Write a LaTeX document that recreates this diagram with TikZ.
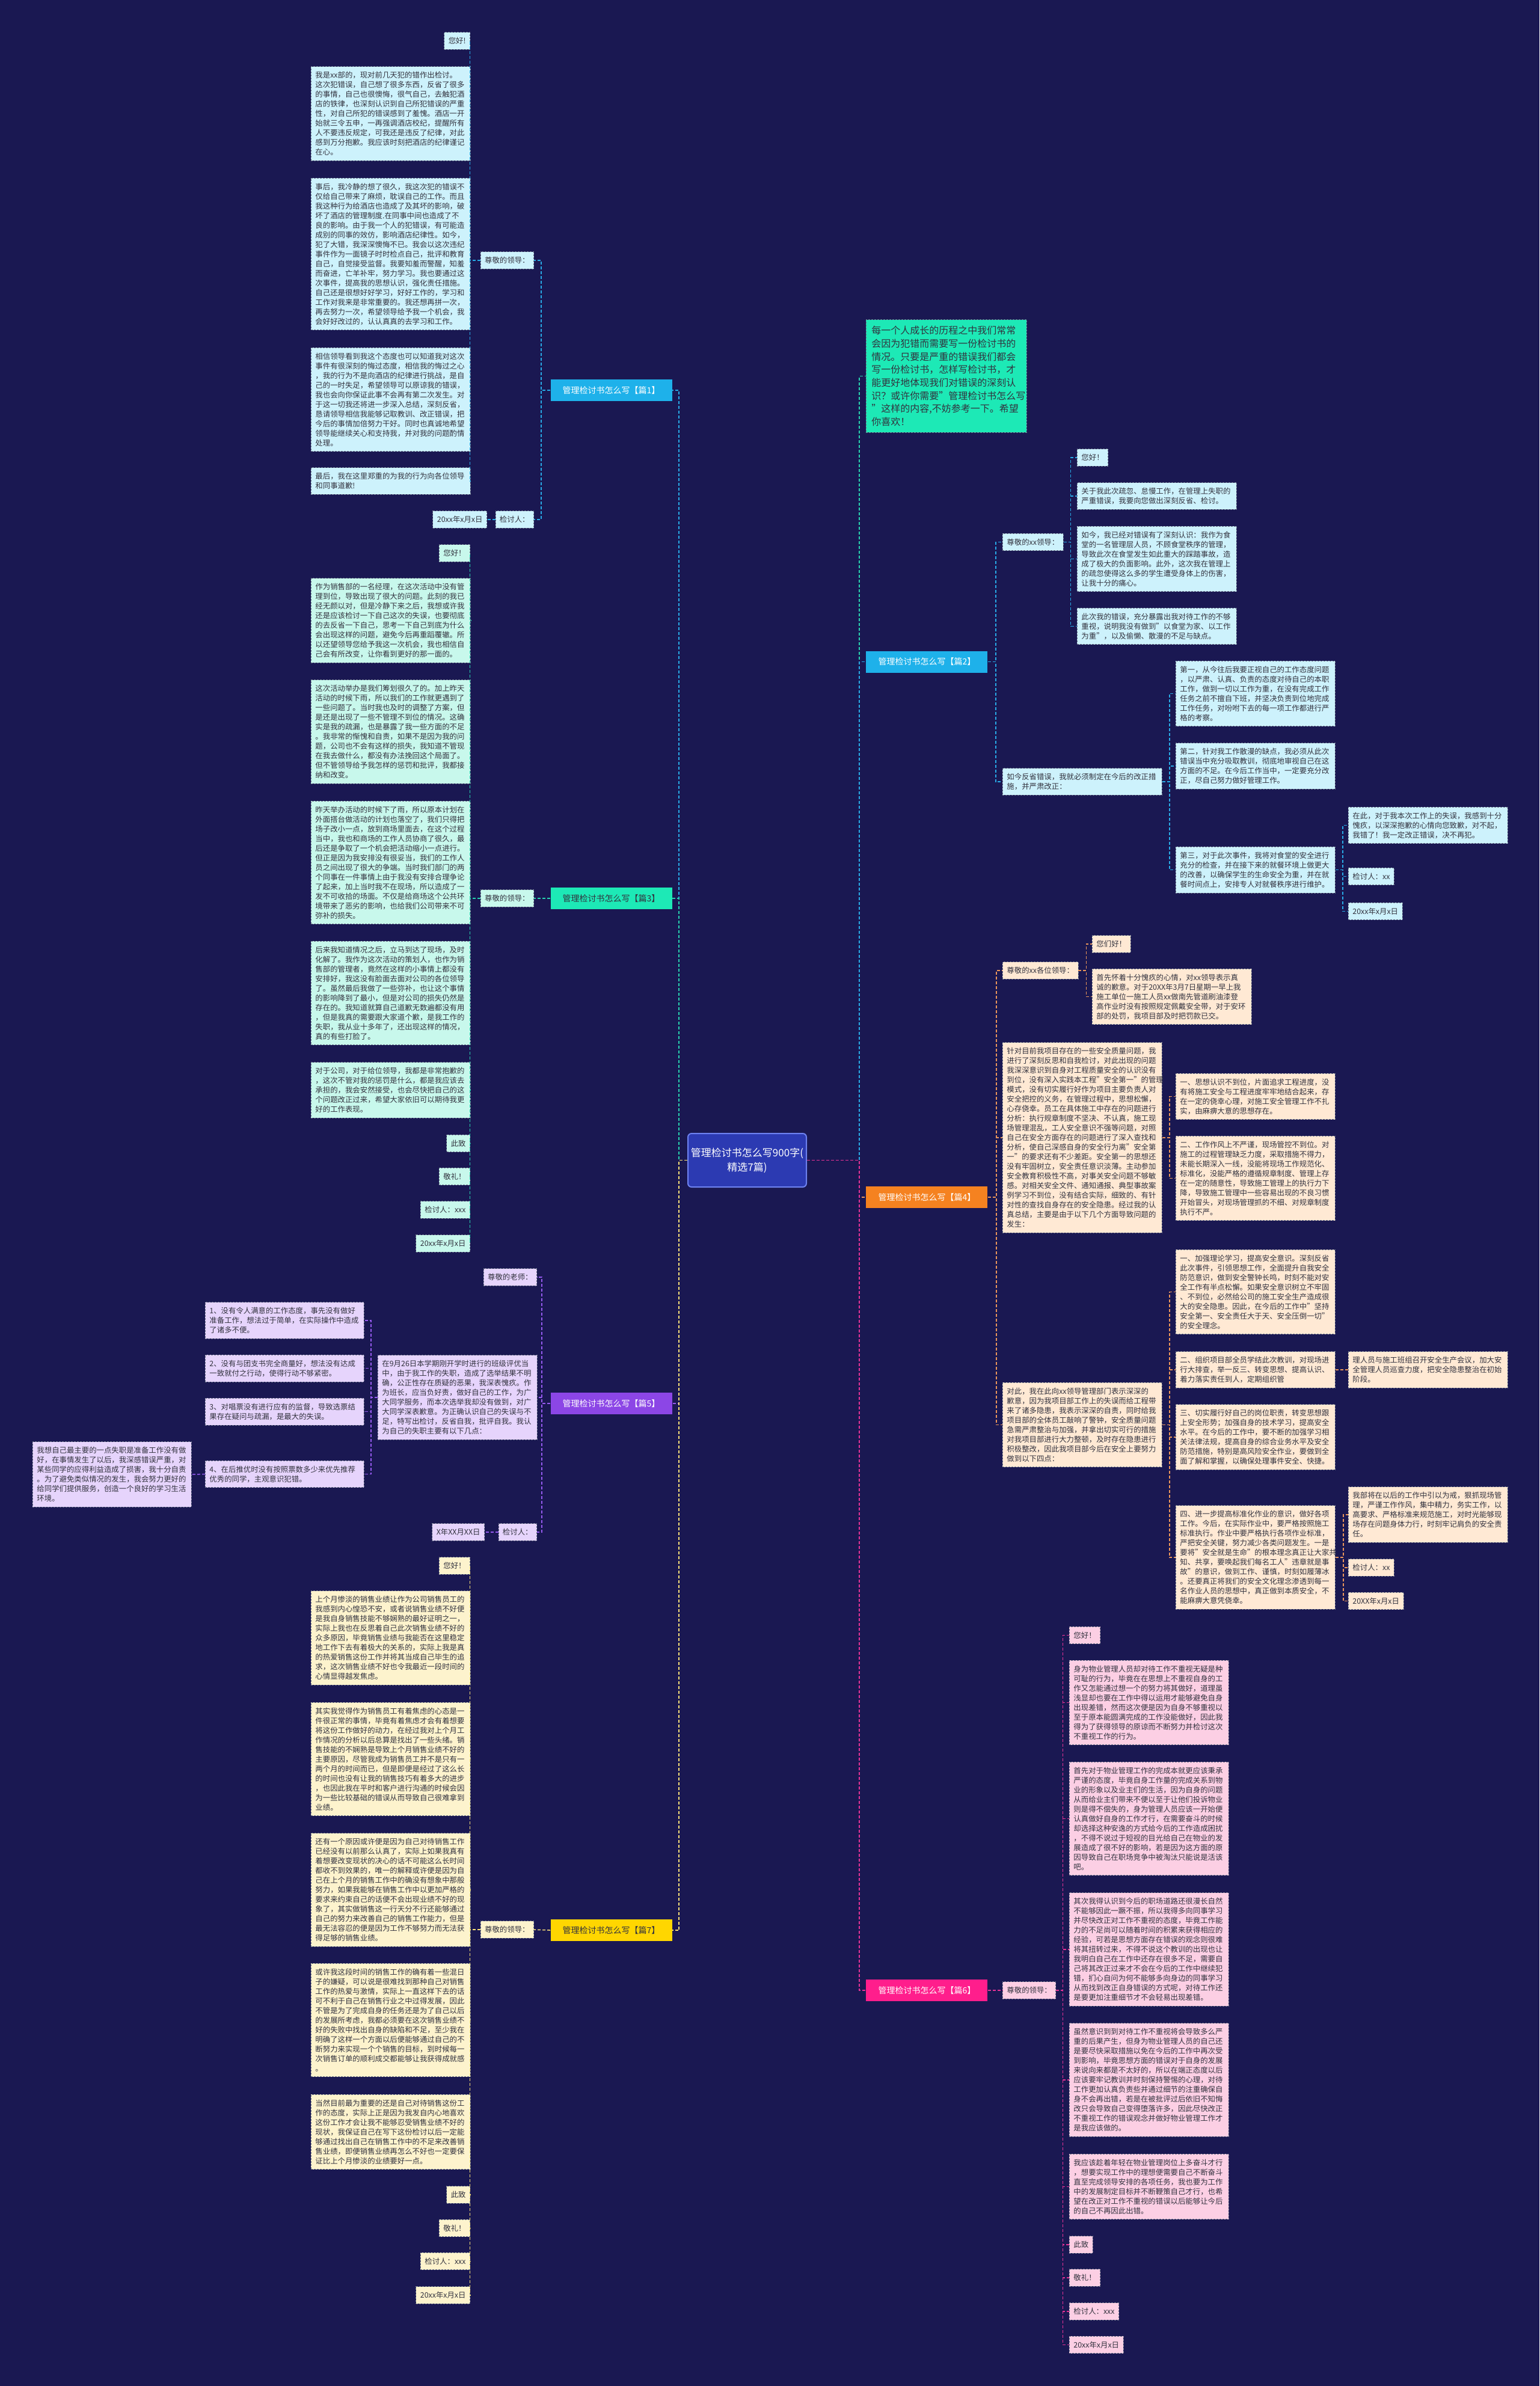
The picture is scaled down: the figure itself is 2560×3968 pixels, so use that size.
\documentclass[tikz,border=0pt]{standalone}
\usepackage{fontspec}
\setmainfont{Noto Sans CJK SC}
\usetikzlibrary{calc}
\definecolor{bg}{RGB}{26,24,82}
\definecolor{txt}{RGB}{50,50,62}
\definecolor{D0}{RGB}{110,118,140}
\definecolor{F1}{RGB}{205,242,252}
\definecolor{F3}{RGB}{200,248,236}
\definecolor{F5}{RGB}{230,212,252}
\definecolor{F7}{RGB}{253,243,205}
\definecolor{F4}{RGB}{255,233,212}
\definecolor{F6}{RGB}{252,207,228}
\definecolor{B1}{RGB}{30,177,234}
\definecolor{B3}{RGB}{29,233,182}
\definecolor{B4}{RGB}{245,130,32}
\definecolor{B5}{RGB}{140,70,230}
\definecolor{B6}{RGB}{255,30,140}
\definecolor{B7}{RGB}{255,214,0}
\definecolor{L1}{RGB}{40,170,230}
\definecolor{L3}{RGB}{40,210,175}
\definecolor{L5}{RGB}{150,90,240}
\definecolor{L7}{RGB}{250,225,120}
\definecolor{L4}{RGB}{235,150,90}
\definecolor{L6}{RGB}{230,50,150}
\definecolor{CF}{RGB}{44,58,178}
\definecolor{CD}{RGB}{110,130,240}
\newcommand\fs{\fontsize{12.4pt}{16pt}\selectfont\parindent=0pt}
\tikzset{
  bx/.style={rectangle, line width=0.9pt, dash pattern=on 3pt off 2pt, draw=D0,
    inner xsep=7pt, inner ysep=8.5pt, align=left, font=\fs, text=txt},
  wd/.style={text width=251pt},
  k1/.style={bx, fill=F1},
  k3/.style={bx, fill=F3},
  k5/.style={bx, fill=F5},
  k7/.style={bx, fill=F7},
  k4/.style={bx, fill=F4},
  k6/.style={bx, fill=F6},
  br/.style={rectangle, minimum height=36pt, minimum width=202pt, inner xsep=10pt,
    font=\fontsize{14pt}{17pt}\selectfont, line width=0.9pt, dash pattern=on 3pt off 2pt},
  ln/.style={line width=1.5pt, dash pattern=on 5pt off 3pt},
  ctrbox/.style={rectangle, rounded corners=6pt, fill=CF, draw=CD, line width=2pt,
    minimum width=197pt, minimum height=89pt, align=center, text=white,
    font=\fontsize{17pt}{24pt}\selectfont}
}
\begin{document}
\begin{tikzpicture}[x=1pt,y=-1pt]
\fill[bg] (0,0) rectangle (2560,3968);
\useasboundingbox (0,0) rectangle (2560,3968);

% ---------- centre ----------
\node[ctrbox] (ctr) at (1242.5,1929.5) {管理检讨书怎么写900字(\\精选7篇)};

% ---------- branch nodes ----------
\node[br,fill=B1,text=white,anchor=east] (b1) at (1118,649) {管理检讨书怎么写【篇1】};
\node[br,fill=B3,text=txt,anchor=east] (b3) at (1118,1494) {管理检讨书怎么写【篇3】};
\node[br,fill=B5,text=white,anchor=east] (b5) at (1118,2334) {管理检讨书怎么写【篇5】};
\node[br,fill=B7,text=txt,anchor=east] (b7) at (1118,3210) {管理检讨书怎么写【篇7】};
\node[br,fill=B1,text=white,anchor=west] (b2) at (1440,1100.5) {管理检讨书怎么写【篇2】};
\node[br,fill=B4,text=white,anchor=west] (b4) at (1440,1991) {管理检讨书怎么写【篇4】};
\node[br,fill=B6,text=white,anchor=west] (b6) at (1440,3310) {管理检讨书怎么写【篇6】};
\node[bx,fill=B3,text=txt,anchor=west,text width=249pt,inner xsep=9pt,inner ysep=10.5pt,
  font=\fontsize{16pt}{21.7pt}\selectfont] (intro) at (1440,625.5)
 {每一个人成长的历程之中我们常常\\会因为犯错而需要写一份检讨书的\\情况。只要是严重的错误我们都会\\写一份检讨书，怎样写检讨书，才\\能更好地体现我们对错误的深刻认\\识？或许你需要"管理检讨书怎么写\\"这样的内容,不妨参考一下。希望\\你喜欢！};

% ---------- 篇1 ----------
\node[k1,anchor=east] (p1) at (888,433) {尊敬的领导：};
\node[k1,anchor=east] (s1) at (888,864) {检讨人：};
\node[k1,anchor=east] (d1) at (810,864) {20xx年x月x日};
\node[k1,anchor=east] (h1) at (782,68) {您好!};
\node[k1,wd,anchor=west] (a1) at (517,189) {我是xx部的，现对前几天犯的错作出检讨。\\这次犯错误，自己想了很多东西，反省了很多\\的事情，自己也很懊悔，很气自己，去触犯酒\\店的铁律，也深刻认识到自己所犯错误的严重\\性，对自己所犯的错误感到了羞愧。酒店一开\\始就三令五申，一再强调酒店校纪，提醒所有\\人不要违反规定，可我还是违反了纪律，对此\\感到万分抱歉。我应该时刻把酒店的纪律谨记\\在心。};
\node[k1,wd,anchor=west] (a2) at (517,422.5) {事后，我冷静的想了很久，我这次犯的错误不\\仅给自己带来了麻烦，耽误自己的工作。而且\\我这种行为给酒店也造成了及其坏的影响，破\\坏了酒店的管理制度.在同事中间也造成了不\\良的影响。由于我一个人的犯错误，有可能造\\成别的同事的效仿，影响酒店纪律性。如今，\\犯了大错，我深深懊悔不已。我会以这次违纪\\事件作为一面镜子时时检点自己，批评和教育\\自己，自觉接受监督。我要知羞而警醒，知羞\\而奋进，亡羊补牢，努力学习。我也要通过这\\次事件，提高我的思想认识，强化责任措施。\\自己还是很想好好学习，好好工作的，学习和\\工作对我来是非常重要的。我还想再拼一次，\\再去努力一次，希望领导给予我一个机会，我\\会好好改过的，认认真真的去学习和工作。};
\node[k1,wd,anchor=west] (a3) at (517,664.5) {相信领导看到我这个态度也可以知道我对这次\\事件有很深刻的悔过态度，相信我的悔过之心\\，我的行为不是向酒店的纪律进行挑战，是自\\己的一时失足，希望领导可以原谅我的错误，\\我也会向你保证此事不会再有第二次发生。对\\于这一切我还将进一步深入总结，深刻反省，\\恳请领导相信我能够记取教训、改正错误，把\\今后的事情加倍努力干好。同时也真诚地希望\\领导能继续关心和支持我，并对我的问题酌情\\处理。};
\node[k1,wd,anchor=west] (a4) at (517,800) {最后，我在这里郑重的为我的行为向各位领导\\和同事道歉!};

% ---------- 篇3 ----------
\node[k3,anchor=east] (p3) at (888,1494) {尊敬的领导：};
\node[k3,anchor=east] (h3) at (782,920) {您好！};
\node[k3,wd,anchor=west] (c31) at (517,1032) {作为销售部的一名经理，在这次活动中没有管\\理到位，导致出现了很大的问题。此刻的我已\\经无颜以对，但是冷静下来之后，我想或许我\\还是应该检讨一下自己这次的失误，也要彻底\\的去反省一下自己，思考一下自己到底为什么\\会出现这样的问题，避免今后再重蹈覆辙。所\\以还望领导您给予我这一次机会，我也相信自\\己会有所改变，让你看到更好的那一面的。};
\node[k3,wd,anchor=west] (c32) at (517,1217) {这次活动举办是我们筹划很久了的。加上昨天\\活动的时候下雨，所以我们的工作就更遇到了\\一些问题了。当时我也及时的调整了方案，但\\是还是出现了一些不管理不到位的情况。这确\\实是我的疏漏，也是暴露了我一些方面的不足\\。我非常的惭愧和自责，如果不是因为我的问\\题，公司也不会有这样的损失，我知道不管现\\在我去做什么，都没有办法挽回这个局面了。\\但不管领导给予我怎样的惩罚和批评，我都接\\纳和改变。};
\node[k3,wd,anchor=west] (c33) at (517,1434.5) {昨天举办活动的时候下了雨，所以原本计划在\\外面搭台做活动的计划也落空了，我们只得把\\场子改小一点，放到商场里面去，在这个过程\\当中，我也和商场的工作人员协商了很久，最\\后还是争取了一个机会把活动缩小一点进行。\\但正是因为我安排没有很妥当，我们的工作人\\员之间出现了很大的争端。当时我们部门的两\\个同事在一件事情上由于我没有安排合理争论\\了起来，加上当时我不在现场，所以造成了一\\发不可收拾的场面。不仅是给商场这个公共环\\境带来了恶劣的影响，也给我们公司带来不可\\弥补的损失。};
\node[k3,wd,anchor=west] (c34) at (517,1651.5) {后来我知道情况之后，立马到达了现场，及时\\化解了。我作为这次活动的策划人，也作为销\\售部的管理者，竟然在这样的小事情上都没有\\安排好，我这没有脸面去面对公司的各位领导\\了。虽然最后我做了一些弥补，也让这个事情\\的影响降到了最小，但是对公司的损失仍然是\\存在的。我知道就算自己道歉无数遍都没有用\\，但是我真的需要跟大家道个歉，是我工作的\\失职，我从业十多年了，还出现这样的情况，\\真的有些打脸了。};
\node[k3,wd,anchor=west] (c35) at (517,1813) {对于公司，对于给位领导，我都是非常抱歉的\\，这次不管对我的惩罚是什么，都是我应该去\\承担的，我会安然接受，也会尽快把自己的这\\个问题改正过来，希望大家依旧可以期待我更\\好的工作表现。};
\node[k3,anchor=east] (c36) at (782,1901.5) {此致};
\node[k3,anchor=east] (c37) at (782,1956.5) {敬礼！};
\node[k3,anchor=east] (c38) at (782,2012) {检讨人：xxx};
\node[k3,anchor=east] (c39) at (782,2068) {20xx年x月x日};

% ---------- 篇5 ----------
\node[k5,anchor=east] (t5) at (893,2124) {尊敬的老师：};
\node[k5,wd,anchor=west] (g5) at (628,2324) {在9月26日本学期刚开学时进行的班级评优当\\中，由于我工作的失职，造成了选举结果不明\\确，公正性存在质疑的恶果，我深表愧疚。作\\为班长，应当负好责，做好自己的工作，为广\\大同学服务，而本次选举我却没有做到，对广\\大同学深表歉意。为正确认识自己的失误与不\\足，特写出检讨，反省自我，批评自我。我认\\为自己的失职主要有以下几点：};
\node[k5,text width=250pt,anchor=west] (i51) at (341,2196) {1、没有令人满意的工作态度，事先没有做好\\准备工作，想法过于简单，在实际操作中造成\\了诸多不便。};
\node[k5,text width=250pt,anchor=west] (i52) at (341,2275.5) {2、没有与团支书完全商量好，想法没有达成\\一致就付之行动，使得行动不够紧密。};
\node[k5,text width=250pt,anchor=west] (i53) at (341,2347.5) {3、对唱票没有进行应有的监督，导致选票结\\果存在疑问与疏漏，是最大的失误。};
\node[k5,text width=250pt,anchor=west] (i54) at (341,2451.5) {4、在后推优时没有按照票数多少来优先推荐\\优秀的同学，主观意识犯错。};
\node[k5,text width=250pt,anchor=west] (l5) at (54,2452) {我想自己最主要的一点失职是准备工作没有做\\好，在事情发生了以后，我深感错误严重，对\\某些同学的应得利益造成了损害，我十分自责\\。为了避免类似情况的发生，我会努力更好的\\给同学们提供服务，创造一个良好的学习生活\\环境。};
\node[k5,anchor=east] (s5) at (893,2548) {检讨人：};
\node[k5,anchor=east] (d5) at (806,2548) {X年XX月XX日};

% ---------- 篇7 ----------
\node[k7,anchor=east] (p7) at (888,3209) {尊敬的领导：};
\node[k7,anchor=east] (h7) at (782,2604) {您好！};
\node[k7,wd,anchor=west] (e71) at (517,2724) {上个月惨淡的销售业绩让作为公司销售员工的\\我感到内心惶恐不安，或者说销售业绩不好便\\是我自身销售技能不够娴熟的最好证明之一，\\实际上我也在反思着自己此次销售业绩不好的\\众多原因，毕竟销售业绩与我能否在这里稳定\\地工作下去有着极大的关系的，实际上我是真\\的热爱销售这份工作并将其当成自己毕生的追\\求，这次销售业绩不好也令我最近一段时间的\\心情显得越发焦虑。};
\node[k7,wd,anchor=west] (e72) at (517,2925.5) {其实我觉得作为销售员工有着焦虑的心态是一\\件很正常的事情，毕竟有着焦虑才会有着想要\\将这份工作做好的动力，在经过我对上个月工\\作情况的分析以后总算是找出了一些头绪。销\\售技能的不娴熟是导致上个月销售业绩不好的\\主要原因，尽管我成为销售员工并不是只有一\\两个月的时间而已，但是即便是经过了这么长\\的时间也没有让我的销售技巧有着多大的进步\\，也因此我在平时和客户进行沟通的时候会因\\为一些比较基础的错误从而导致自己很难拿到\\业绩。};
\node[k7,wd,anchor=west] (e73) at (517,3143) {还有一个原因或许便是因为自己对待销售工作\\已经没有以前那么认真了，实际上如果我真有\\着想要改变现状的决心的话不可能这么长时间\\都收不到效果的，唯一的解释或许便是因为自\\己在上个月的销售工作中的确没有想象中那般\\努力，如果我能够在销售工作中以更加严格的\\要求来约束自己的话便不会出现业绩不好的现\\象了，其实做销售这一行天分不行还能够通过\\自己的努力来改善自己的销售工作能力，但是\\最无法容忍的便是因为工作不够努力而无法获\\得足够的销售业绩。};
\node[k7,wd,anchor=west] (e74) at (517,3359.5) {或许我这段时间的销售工作的确有着一些混日\\子的嫌疑，可以说是很难找到那种自己对销售\\工作的热爱与激情，实际上一直这样下去的话\\可不利于自己在销售行业之中过得发展，因此\\不管是为了完成自身的任务还是为了自己以后\\的发展所考虑，我都必须要在这次销售业绩不\\好的失败中找出自身的缺陷和不足，至少我在\\明确了这样一个方面以后便能够通过自己的不\\断努力来实现一个个销售的目标，到时候每一\\次销售订单的顺利成交都能够让我获得成就感\\。};
\node[k7,wd,anchor=west] (e75) at (517,3545.5) {当然目前最为重要的还是自己对待销售这份工\\作的态度，实际上正是因为我发自内心地喜欢\\这份工作才会让我不能够忍受销售业绩不好的\\现状，我保证自己在写下这份检讨以后一定能\\够通过找出自己在销售工作中的不足来改善销\\售业绩，即便销售业绩再怎么不好也一定要保\\证比上个月惨淡的业绩要好一点。};
\node[k7,anchor=east] (e76) at (782,3650) {此致};
\node[k7,anchor=east] (e77) at (782,3705.5) {敬礼！};
\node[k7,anchor=east] (e78) at (782,3760.5) {检讨人：xxx};
\node[k7,anchor=east] (e79) at (782,3817) {20xx年x月x日};

% ---------- 篇2 ----------
\node[k1,anchor=west] (p2) at (1667,901.5) {尊敬的xx领导：};
\node[k1,wd,anchor=west] (q2) at (1667,1300) {如今反省错误，我就必须制定在今后的改正措\\施，并严肃改正：};
\node[k1,anchor=west] (h2) at (1791,761) {您好！};
\node[k1,wd,anchor=west] (f21) at (1791,825) {关于我此次疏忽、怠慢工作，在管理上失职的\\严重错误，我要向您做出深刻反省、检讨。};
\node[k1,wd,anchor=west] (f22) at (1791,929.5) {如今，我已经对错误有了深刻认识：我作为食\\堂的一名管理层人员，不顾食堂秩序的管理，\\导致此次在食堂发生如此重大的踩踏事故，造\\成了极大的负面影响。此外，这次我在管理上\\的疏忽使得这么多的学生遭受身体上的伤害，\\让我十分的痛心。};
\node[k1,wd,anchor=west] (f23) at (1791,1041.5) {此次我的错误，充分暴露出我对待工作的不够\\重视，说明我没有做到"以食堂为家、以工作\\为重"，以及偷懒、散漫的不足与缺点。};
\node[k1,wd,anchor=west] (f24) at (1955,1153.5) {第一，从今往后我要正视自己的工作态度问题\\，以严肃、认真、负责的态度对待自己的本职\\工作，做到一切以工作为重，在没有完成工作\\任务之前不擅自下班，并坚决负责到位地完成\\工作任务，对吩咐下去的每一项工作都进行严\\格的考察。};
\node[k1,wd,anchor=west] (f25) at (1955,1274) {第二，针对我工作散漫的缺点，我必须从此次\\错误当中充分吸取教训，彻底地审视自己在这\\方面的不足。在今后工作当中，一定要充分改\\正，尽自己努力做好管理工作。};
\node[k1,wd,anchor=west] (f26) at (1955,1446.5) {第三，对于此次事件，我将对食堂的安全进行\\充分的检查，并在接下来的就餐环境上做更大\\的改善，以确保学生的生命安全为重，并在就\\餐时间点上，安排专人对就餐秩序进行维护。};
\node[k1,wd,anchor=west] (f27) at (2242,1372.5) {在此，对于我本次工作上的失误，我感到十分\\愧疚，以深深抱歉的心情向您致歉，对不起，\\我错了！我一定改正错误，决不再犯。};
\node[k1,anchor=west] (f28) at (2242,1457.5) {检讨人：xx};
\node[k1,anchor=west] (f29) at (2242,1515.5) {20xx年x月x日};

% ---------- 篇4 ----------
\node[k4,anchor=west] (p4) at (1667,1614) {尊敬的xx各位领导：};
\node[k4,anchor=west] (h4) at (1816,1570) {您们好！};
\node[k4,wd,anchor=west] (g41) at (1816,1657.5) {首先怀着十分愧疚的心情，对xx领导表示真\\诚的歉意。对于20XX年3月7日星期一早上我\\施工单位一施工人员xx做南先管道刷油漆登\\高作业时没有按照规定佩戴安全带，对于安环\\部的处罚，我项目部及时把罚款已交。};
\node[k4,wd,anchor=west] (g42) at (1667,1892) {针对目前我项目存在的一些安全质量问题，我\\进行了深刻反思和自我检讨，对此出现的问题\\我深深意识到自身对工程质量安全的认识没有\\到位，没有深入实践本工程"安全第一"的管理\\模式，没有切实履行好作为项目主要负责人对\\安全把控的义务，在管理过程中，思想松懈，\\心存侥幸。员工在具体施工中存在的问题进行\\分析：执行规章制度不坚决、不认真，施工现\\场管理混乱，工人安全意识不强等问题，对照\\自己在安全方面存在的问题进行了深入查找和\\分析，使自己深感自身的安全行为离"安全第\\一"的要求还有不少差距。安全第一的思想还\\没有牢固树立，安全责任意识淡薄。主动参加\\安全教育积极性不高，对事关安全问题不够敏\\感。对相关安全文件、通知通报、典型事故案\\例学习不到位，没有结合实际，细致的、有针\\对性的查找自身存在的安全隐患。经过我的认\\真总结，主要是由于以下几个方面导致问题的\\发生：};
\node[k4,wd,anchor=west] (g43) at (1955,1823.5) {一、思想认识不到位，片面追求工程进度，没\\有将施工安全与工程进度牢牢地结合起来，存\\在一定的侥幸心理，对施工安全管理工作不扎\\实，由麻痹大意的思想存在。};
\node[k4,wd,anchor=west] (g44) at (1955,1959.5) {二、工作作风上不严谨，现场管控不到位。对\\施工的过程管理缺乏力度，采取措施不得力，\\未能长期深入一线，没能将现场工作规范化、\\标准化，没能严格的遵循规章制度、管理上存\\在一定的随意性，导致施工管理上的执行力下\\降，导致施工管理中一些容易出现的不良习惯\\开始冒头，对现场管理抓的不细、对规章制度\\执行不严。};
\node[k4,wd,anchor=west] (g45) at (1667,2369.5) {对此，我在此向xx领导管理部门表示深深的\\歉意，因为我项目部工作上的失误而给工程带\\来了诸多隐患，我表示深深的自责，同时给我\\项目部的全体员工敲响了警钟，安全质量问题\\急需严肃整治与加强，并拿出切实可行的措施\\对我项目部进行大力整顿，及时存在隐患进行\\积极整改，因此我项目部今后在安全上要努力\\做到以下四点：};
\node[k4,wd,anchor=west] (g46) at (1955,2148.5) {一、加强理论学习，提高安全意识。深刻反省\\此次事件，引领思想工作，全面提升自我安全\\防范意识，做到安全警钟长鸣，时刻不能对安\\全工作有半点松懈。如果安全意识树立不牢固\\、不到位，必然给公司的施工安全生产造成很\\大的安全隐患。因此，在今后的工作中"坚持\\安全第一、安全责任大于天、安全压倒一切"\\的安全理念。};
\node[k4,wd,anchor=west] (g47) at (1955,2278) {二、组织项目部全员学结此次教训，对现场进\\行大排查，举一反三、转变思想、提高认识、\\着力落实责任到人，定期组织管};
\node[k4,wd,anchor=west] (g48) at (2242,2278) {理人员与施工班组召开安全生产会议，加大安\\全管理人员巡查力度，把安全隐患整治在初始\\阶段。};
\node[k4,wd,anchor=west] (g49) at (1955,2390) {三、切实履行好自己的岗位职责，转变思想跟\\上安全形势；加强自身的技术学习，提高安全\\水平。在今后的工作中，要不断的加强学习相\\关法律法规，提高自身的综合业务水平及安全\\防范措施，特别是高风险安全作业，要做到全\\面了解和掌握，以确保处理事件安全、快捷。};
\node[k4,wd,anchor=west] (g4a) at (1955,2590) {四、进一步提高标准化作业的意识，做好各项\\工作。今后，在实际作业中，要严格按照施工\\标准执行。作业中要严格执行各项作业标准，\\严把安全关键，努力减少各类问题发生。一是\\要将"安全就是生命"的根本理念真正让大家共\\知、共享，要唤起我们每名工人"违章就是事\\故"的意识，做到工作、谨慎，时刻如履薄冰\\。还要真正将我们的安全文化理念渗透到每一\\名作业人员的思想中，真正做到本质安全，不\\能麻痹大意凭侥幸。};
\node[k4,wd,anchor=west] (g4b) at (2242,2519) {我部将在以后的工作中引以为戒，狠抓现场管\\理，严谨工作作风，集中精力，务实工作，以\\高要求、严格标准来规范施工，对时光能够现\\场存在问题身体力行，时刻牢记肩负的安全责\\任。};
\node[k4,anchor=west] (g4c) at (2242,2607) {检讨人：xx};
\node[k4,anchor=west] (g4d) at (2242,2662.5) {20XX年x月x日};

% ---------- 篇6 ----------
\node[k6,anchor=west] (p6) at (1667,3310) {尊敬的领导：};
\node[k6,anchor=west] (h6) at (1778,2719.5) {您好！};
\node[k6,wd,anchor=west] (m61) at (1778,2831.5) {身为物业管理人员却对待工作不重视无疑是种\\可耻的行为，毕竟在在思想上不重视自身的工\\作又怎能通过想一个的努力将其做好，道理虽\\浅显却也要在工作中得以运用才能够避免自身\\出现差错，然而这次便是因为自身不够重视以\\至于原本能圆满完成的工作没能做好，因此我\\得为了获得领导的原谅而不断努力并检讨这次\\不重视工作的行为。};
\node[k6,wd,anchor=west] (m62) at (1778,3024.5) {首先对于物业管理工作的完成本就更应该秉承\\严谨的态度，毕竟自身工作量的完成关系到物\\业的形象以及业主们的生活，因为自身的问题\\从而给业主们带来不便以至于让他们投诉物业\\则是得不偿失的，身为管理人员应该一开始便\\认真做好自身的工作才行，在需要奋斗的时候\\却选择这种安逸的方式给今后的工作造成困扰\\，不得不说过于短视的目光给自己在物业的发\\展造成了很不好的影响，若是因为这方面的原\\因导致自己在职场竞争中被淘汰只能说是活该\\吧。};
\node[k6,wd,anchor=west] (m63) at (1778,3242) {其次我得认识到今后的职场道路还很漫长自然\\不能够因此一蹶不振，所以我得多向同事学习\\并尽快改正对工作不重视的态度，毕竟工作能\\力的不足尚可以随着时间的积累来获得相应的\\经验，可若是思想方面存在错误的观念则很难\\将其扭转过来，不得不说这个教训的出现也让\\我明白自己在工作中还存在很多不足，需要自\\己将其改正过来才不会在今后的工作中继续犯\\错，扪心自问为何不能够多向身边的同事学习\\从而找到改正自身错误的方式呢，对待工作还\\是要更加注重细节才不会轻易出现差错。};
\node[k6,wd,anchor=west] (m64) at (1778,3459) {虽然意识到到对待工作不重视将会导致多么严\\重的后果产生，但身为物业管理人员的自己还\\是要尽快采取措施以免在今后的工作中再次受\\到影响，毕竟思想方面的错误对于自身的发展\\来说向来都是不太好的，所以在端正态度以后\\应该要牢记教训并时刻保持警惕的心理，对待\\工作更加认真负责些并通过细节的注重确保自\\身不会再出错，若是在被批评过后依旧不知悔\\改只会导致自己变得堕落许多，因此尽快改正\\不重视工作的错误观念并做好物业管理工作才\\是我应该做的。};
\node[k6,wd,anchor=west] (m65) at (1778,3636.5) {我应该趁着年轻在物业管理岗位上多奋斗才行\\，想要实现工作中的理想便需要自己不断奋斗\\直至完成领导安排的各项任务，我也要为工作\\中的发展制定目标并不断鞭策自己才行，也希\\望在改正对工作不重视的错误以后能够让今后\\的自己不再因此出错。};
\node[k6,anchor=west] (m66) at (1778,3733) {此致};
\node[k6,anchor=west] (m67) at (1778,3788) {敬礼！};
\node[k6,anchor=west] (m68) at (1778,3844) {检讨人：xxx};
\node[k6,anchor=west] (m69) at (1778,3899.5) {20xx年x月x日};

% ---------- connectors: centre to branches ----------
\foreach \b/\c in {b1/L1,b3/L3,b5/L5,b7/L7}
  \draw[ln,draw=\c] (ctr.west) -- ++(-14,0) |- (\b.east);
\foreach \b/\c in {intro/L3,b2/L1,b4/L4,b6/L6}
  \draw[ln,draw=\c] (ctr.east) -- ++(87,0) |- (\b.west);

% 篇1
\foreach \c in {p1,s1} \draw[ln,draw=L1] (b1.west) -- ++(-15,0) |- (\c.east);
\foreach \c in {h1,a1,a2,a3,a4} \draw[ln,draw=L1] (p1.west) -- ++(-17,0) |- (\c.east);
\draw[ln,draw=L1] (s1.west) -- (d1.east);
% 篇3
\draw[ln,draw=L3] (b3.west) -- (p3.east);
\foreach \c in {h3,c31,c32,c33,c34,c35,c36,c37,c38,c39} \draw[ln,draw=L3] (p3.west) -- ++(-17,0) |- (\c.east);
% 篇5
\foreach \c in {t5,g5,s5} \draw[ln,draw=L5] (b5.west) -- ++(-14,0) |- (\c.east);
\foreach \c in {i51,i52,i53,i54} \draw[ln,draw=L5] (g5.west) -- ++(-11,0) |- (\c.east);
\draw[ln,draw=L5] (i54.west) -- (l5.east);
\draw[ln,draw=L5] (s5.west) -- (d5.east);
% 篇7
\draw[ln,draw=L7] (b7.west) -- (p7.east);
\foreach \c in {h7,e71,e72,e73,e74,e75,e76,e77,e78,e79} \draw[ln,draw=L7] (p7.west) -- ++(-17,0) |- (\c.east);
% 篇2
\foreach \c in {p2,q2} \draw[ln,draw=L1] (b2.east) -- ++(13,0) |- (\c.west);
\foreach \c in {h2,f21,f22,f23} \draw[ln,draw=L1] (p2.east) -- ++(12,0) |- (\c.west);
\foreach \c in {f24,f25,f26} \draw[ln,draw=L1] (q2.east) -- ++(12,0) |- (\c.west);
\foreach \c in {f27,f28,f29} \draw[ln,draw=L1] (f26.east) -- ++(12,0) |- (\c.west);
% 篇4
\foreach \c in {p4,g42,g45} \draw[ln,draw=L4] (b4.east) -- ++(14,0) |- (\c.west);
\foreach \c in {h4,g41} \draw[ln,draw=L4] (p4.east) -- ++(13,0) |- (\c.west);
\foreach \c in {g43,g44} \draw[ln,draw=L4] (g42.east) -- ++(12,0) |- (\c.west);
\foreach \c in {g46,g47,g49,g4a} \draw[ln,draw=L4] (g45.east) -- ++(12,0) |- (\c.west);
\draw[ln,draw=L4] (g47.east) -- (g48.west);
\foreach \c in {g4b,g4c,g4d} \draw[ln,draw=L4] (g4a.east) -- ++(13,0) |- (\c.west);
% 篇6
\draw[ln,draw=L6] (b6.east) -- (p6.west);
\foreach \c in {h6,m61,m62,m63,m64,m65,m66,m67,m68,m69} \draw[ln,draw=L6] (p6.east) -- ++(11,0) |- (\c.west);
\end{tikzpicture}
\end{document}
